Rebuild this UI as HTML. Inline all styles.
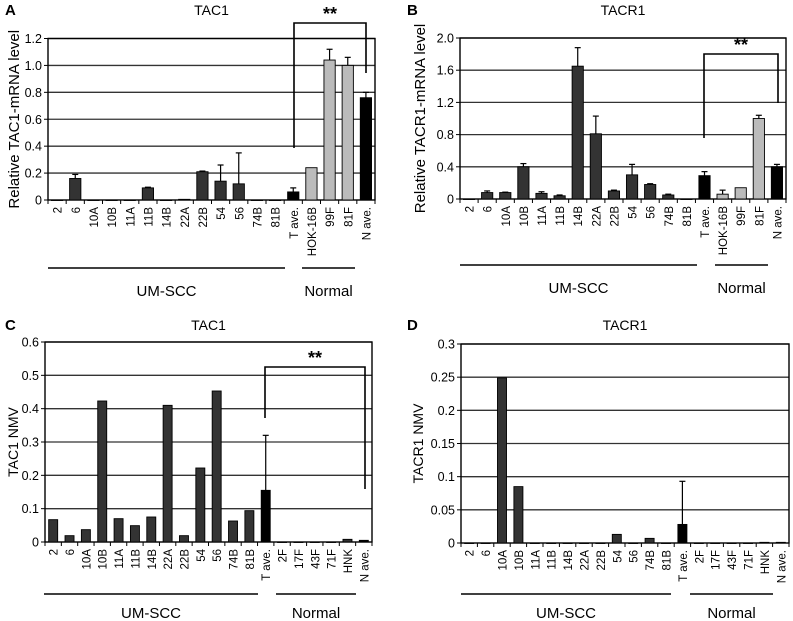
<!DOCTYPE html>
<html><head><meta charset="utf-8"><style>
body{margin:0;background:#fff}
svg{display:block;font-family:"Liberation Sans",Arial,sans-serif}
</style></head><body>
<svg id="fig" width="793" height="621" viewBox="0 0 793 621"></svg>
<script>
const catsAB = ["2","6","10A","10B","11A","11B","14B","22A","22B","54","56","74B","81B","T ave.","HOK-16B","99F","81F","N ave."];
const catsCD = ["2","6","10A","10B","11A","11B","14B","22A","22B","54","56","74B","81B","T ave.","2F","17F","43F","71F","HNK","N ave."];
const valsA = [0,0.16,0,0,0,0.09,0,0.005,0.21,0.14,0.12,0,0,0.06,0.24,1.04,1.0,0.76];
const errA  = [0,0.03,0,0,0,0.005,0,0,0.005,0.12,0.23,0,0,0.03,0,0.08,0.06,0.04];
const valsB = [0,0.08,0.08,0.4,0.07,0.04,1.65,0.81,0.1,0.3,0.18,0.05,0,0.29,0.06,0.14,1.0,0.4];
const errB  = [0,0.02,0.005,0.04,0.02,0.01,0.23,0.22,0.01,0.13,0.01,0.01,0,0.05,0.05,0,0.04,0.03];
const valsC = [0.067,0.019,0.037,0.423,0.07,0.049,0.075,0.41,0.019,0.222,0.453,0.063,0.094,0.155,0,0,0,0,0.008,0.005];
const errC  = [0,0,0,0,0,0,0,0,0,0,0,0,0,0.165,0,0,0,0,0,0];
const valsD = [0,0,0.249,0.085,0,0,0,0,0,0.013,0,0.007,0,0.028,0,0,0,0,0.001,0.001];
const errD  = [0,0,0,0,0,0,0,0,0,0,0,0,0,0.065,0,0,0,0,0,0];
const ticksA = ["0","0.2","0.4","0.6","0.8","1.0","1.2"];
const ticksB = ["0","0.4","0.8","1.2","1.6","2.0"];
const ticksC = ["0","0.1","0.2","0.3","0.4","0.5","0.6"];
const ticksD = ["0","0.05","0.1","0.15","0.2","0.25","0.3"];

const NS="http://www.w3.org/2000/svg";
const svg=document.getElementById('fig');
function mk(tag,attrs,parent){const e=document.createElementNS(NS,tag);for(const k in attrs)e.setAttribute(k,attrs[k]);(parent||svg).appendChild(e);return e;}

function panel(p){
  const g=mk('g',{});
  
  
  const n=p.cats.length, cw=(p.x1-p.x0)/n;
  const ymax=parseFloat(p.ticks[p.ticks.length-1]);
  const ys=v=>p.y0-(v/ymax)*(p.y0-p.y1);
  const xs=i=>p.x0+cw*(i+0.5);
  p.ticks.forEach(t=>{const v=parseFloat(t),y=ys(v);
    if(v>0){const l=mk('line',{x1:p.x0,x2:p.x1,y1:y,y2:y,stroke:'#333','stroke-width':1.3},g);
      }
    mk('line',{x1:p.x0-4,x2:p.x0,y1:y,y2:y,stroke:'#000'},g);
    const tx=mk('text',{x:p.x0-6,y:y+4.5,'text-anchor':'end','font-size':12.5},g);tx.textContent=t;
    
  });
  const fr=mk('rect',{x:p.x0,y:p.y1,width:p.x1-p.x0,height:p.y0-p.y1,fill:'none',stroke:'#000','stroke-width':1.4},g);
  
  for(let i=0;i<=n;i++){const x=p.x0+cw*i;mk('line',{x1:x,x2:x,y1:p.y0,y2:p.y0+4,stroke:'#000'},g);}
  p.vals.forEach((v,i)=>{
    const lab=p.cats[i];
    const avg=lab.indexOf('ave.')>=0, normal=i>13;
    const fill=avg?'#000':(normal&&p.lightNormal?'#bbb':'#333');
    const bw=cw*p.bw, y=ys(v);
    const e=p.errs[i];
    if(e>0){const l=mk('line',{x1:xs(i),x2:xs(i),y1:ys(v+e),y2:y,stroke:'#000','stroke-width':1.2},g);
      
      mk('line',{x1:xs(i)-3,x2:xs(i)+3,y1:ys(v+e),y2:ys(v+e),stroke:'#000','stroke-width':1.2},g);}
    const r=mk('rect',{x:xs(i)-bw/2,y:y,width:bw,height:Math.max(p.y0-y,0.5),fill:fill,stroke:'#000','stroke-width':0.9},g);
    
    
    const t=mk('text',{transform:`translate(${xs(i)+4.5},${p.y0+7}) rotate(-90)`,'text-anchor':'end','font-size':11.5},g);
    t.textContent=lab;
    
  });
  const ti=mk('text',{x:(p.x0+p.x1)/2,y:p.titleY,'text-anchor':'middle','font-size':14},g);ti.textContent=p.title;
  
  const le=mk('text',{x:p.letterX,y:p.titleY,'font-size':15,'font-weight':'bold'},g);le.textContent=p.letter;
  
  const yl=mk('text',{transform:`translate(${p.ylabX},${(p.y0+p.y1)/2}) rotate(-90)`,'text-anchor':'middle','font-size':p.ylabSize},g);yl.textContent=p.ylab;
  
  const l1=mk('line',{x1:p.g1[0],x2:p.g1[1],y1:p.gy,y2:p.gy,stroke:'#000','stroke-width':1.4},g);
  
  const l2=mk('line',{x1:p.g2[0],x2:p.g2[1],y1:p.gy,y2:p.gy,stroke:'#000','stroke-width':1.4},g);
  
  const t1=mk('text',{x:(p.g1[0]+p.g1[1])/2,y:p.gty,'text-anchor':'middle','font-size':15},g);t1.textContent='UM-SCC';
  
  const t2=mk('text',{x:(p.g2[0]+p.g2[1])/2,y:p.gty,'text-anchor':'middle','font-size':15},g);t2.textContent='Normal';
  
  if(p.br){const b=p.br;
    const pl=mk('polyline',{points:`${b.xl},${b.yl} ${b.xl},${b.top} ${b.xr},${b.top} ${b.xr},${b.yr}`,fill:'none',stroke:'#000','stroke-width':1.6},g);
    
    const s=mk('text',{x:(b.xl+b.xr)/2,y:b.top-3,'text-anchor':'middle','font-size':18,'font-weight':'bold'},g);s.textContent='**';
    }
}

panel({name:'panel-a-tac1',cats:catsAB,vals:valsA,errs:errA,ticks:ticksA,x0:48,x1:375,y0:200,y1:38.5,bw:0.62,lightNormal:true,
  title:'TAC1',titleY:15,letter:'A',letterX:5,ylab:'Relative TAC1-mRNA  level',ylabX:19,ylabSize:15,
  g1:[48,285],g2:[302,355],gy:268,gty:296,br:{xl:294,xr:366,top:23,yl:148,yr:73}});
panel({name:'panel-b-tacr1',cats:catsAB,vals:valsB,errs:errB,ticks:ticksB,x0:460,x1:786,y0:199,y1:38,bw:0.62,lightNormal:true,
  title:'TACR1',titleY:15,letter:'B',letterX:407,ylab:'Relative TACR1-mRNA  level',ylabX:425,ylabSize:15,
  g1:[460,697],g2:[715,768],gy:265,gty:293,br:{xl:704,xr:778,top:54,yl:138,yr:103}});
panel({name:'panel-c-tac1-nmv',cats:catsCD,vals:valsC,errs:errC,ticks:ticksC,x0:45,x1:372,y0:542,y1:342,bw:0.55,lightNormal:false,
  title:'TAC1',titleY:330,letter:'C',letterX:5,ylab:'TAC1 NMV',ylabX:18,ylabSize:14,
  g1:[44,258],g2:[276,356],gy:594,gty:618,br:{xl:265,xr:365,top:367,yl:418,yr:489}});
panel({name:'panel-d-tacr1-nmv',cats:catsCD,vals:valsD,errs:errD,ticks:ticksD,x0:461,x1:789,y0:543,y1:344,bw:0.55,lightNormal:false,
  title:'TACR1',titleY:330,letter:'D',letterX:407,ylab:'TACR1 NMV',ylabX:423,ylabSize:14,
  g1:[461,671],g2:[690,773],gy:594,gty:618,br:null});
</script>
</body></html>
